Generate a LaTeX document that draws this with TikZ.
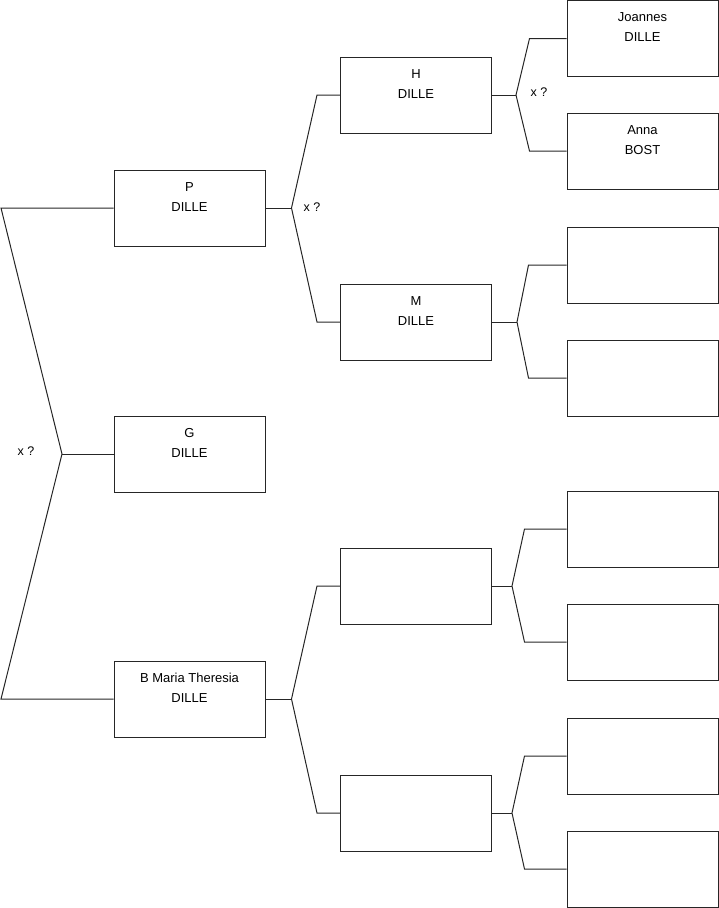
\documentclass[tikz,border=0pt]{standalone}
\usepackage{fontspec}
\setmainfont{Liberation Sans}
\usetikzlibrary{positioning}

\begin{document}
\begin{tikzpicture}[x=1pt, y=-1pt,
    person/.style={draw=black!85, line width=1pt, minimum width=151pt, inner sep=0pt,
      align=center, text height=41pt, text depth=35pt, font=\fontsize{13}{20}\selectfont},
    link/.style={draw=black!85, line width=1pt},
    note/.style={inner sep=0pt, font=\fontsize{12.5}{15}\selectfont}
  ]
    \useasboundingbox (0,0) rectangle (719,908);

    % first generation
    \node[person] (p) at (189.5,208) {P\\DILLE};
    \node[person] (g) at (189.5,454) {G\\DILLE};
    \node[person] (b) at (189.5,699) {B Maria Theresia\\DILLE};

    % parents
    \node[person] (h) at (416,95) {H\\DILLE};
    \node[person] (m) at (416,322) {M\\DILLE};
    \node[person] (bf) at (416,586) {};
    \node[person] (bm) at (416,813) {};

    % grandparents
    \node[person] (hf) at (642.5,38.5) {Joannes\\DILLE};
    \node[person] (hm) at (642.5,151) {Anna\\BOST};
    \node[person] (mf) at (642.5,265) {};
    \node[person] (mm) at (642.5,378) {};
    \node[person] (bff) at (642.5,529) {};
    \node[person] (bfm) at (642.5,642) {};
    \node[person] (bmf) at (642.5,756) {};
    \node[person] (bmm) at (642.5,869) {};

    \coordinate (top) at (1,208);
    \coordinate (root) at (62,454);
    \coordinate (bottom) at (1,699);

    \draw[link] (p.west) -- (top) -- (root) -- (bottom) -- (b.west);
    \draw[link] (root) -- (g.west);
    \node[note] (xroot) at (26,451) {x ?};

    \draw[link] (p.east) -- ++(26,0);
    \draw[link] (h.west) -- ++(-23,0) -- ([xshift=26pt]p.east) -- ([xshift=-23pt]m.west) -- (m.west);
    \node[note] (xp) at (312,207) {x ?};

    \draw[link] (b.east) -- ++(26,0);
    \draw[link] (bf.west) -- ++(-23,0) -- ([xshift=26pt]b.east) -- ([xshift=-23pt]bm.west) -- (bm.west);

    \draw[link] (h.east) -- ++(24,0);
    \draw[link] (hf.west) -- ++(-37,0) -- ([xshift=24pt]h.east) -- ([xshift=-37pt]hm.west) -- (hm.west);
    \node[note] (xh) at (539,92) {x ?};

    \draw[link] (m.east) -- ++(25,0);
    \draw[link] (mf.west) -- ++(-38,0) -- ([xshift=25pt]m.east) -- ([xshift=-38pt]mm.west) -- (mm.west);

    \draw[link] (bf.east) -- ++(20,0);
    \draw[link] (bff.west) -- ++(-42,0) -- ([xshift=20pt]bf.east) -- ([xshift=-42pt]bfm.west) -- (bfm.west);

    \draw[link] (bm.east) -- ++(20,0);
    \draw[link] (bmf.west) -- ++(-42,0) -- ([xshift=20pt]bm.east) -- ([xshift=-42pt]bmm.west) -- (bmm.west);
\end{tikzpicture}
\end{document}
